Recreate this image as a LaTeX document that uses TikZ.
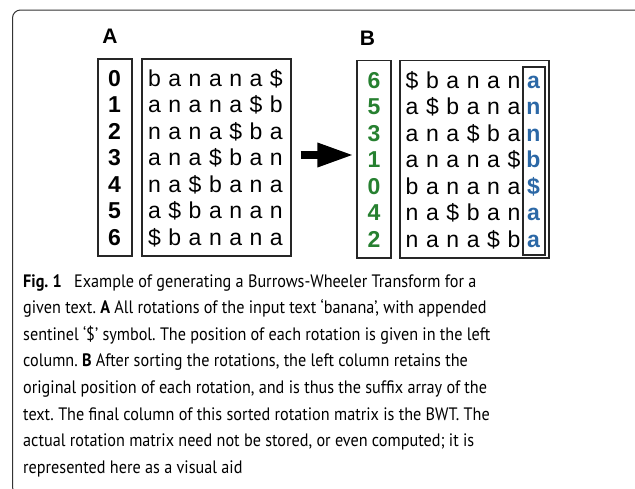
\documentclass[tikz,border=0pt]{standalone}
\usepackage{fontspec}
\usetikzlibrary{arrows.meta}
\newfontfamily\diagfont{Liberation Sans}
\newfontfamily\capfont[FakeStretch=0.9]{PT Sans}
\definecolor{idgreen}{RGB}{38,128,48}
\definecolor{bwtblue}{RGB}{44,104,166}
\frenchspacing
\tikzset{
  frame/.style={draw=black!80, line width=1pt, rounded corners=8pt},
  colbox/.style={draw=black!85, line width=1.1pt, inner sep=0pt},
  ch/.style={font=\diagfont\fontsize{23}{23}\selectfont, anchor=base, inner sep=0pt},
  idx/.style={ch, font=\diagfont\bfseries\fontsize{23}{23}\selectfont},
  panel/.style={font=\diagfont\bfseries\fontsize{21}{21}\selectfont, anchor=base, inner sep=0pt},
  capline/.style={font=\capfont\fontsize{18}{18}\selectfont, anchor=base west, inner sep=0pt},
}
\begin{document}
\begin{tikzpicture}[x=1pt,y=-1pt]
\useasboundingbox (0,0) rectangle (635,488);
\clip (0,0) rectangle (635,488);
% outer frame
\draw[frame] (12.5,10) rectangle (642,495);

% panel labels
\node[panel] (labA) at (110,43) {A};
\node[panel] (labB) at (367.5,45) {B};

% panel A: positions and all rotations
\node[colbox, minimum width=34pt, minimum height=197pt] (numA) at (115,157.5) {};
\node[colbox, minimum width=149pt, minimum height=197pt] (rotA) at (216.5,157.5) {};
\foreach \d/\s [count=\r from 0] in {
  0/{b,a,n,a,n,a,\$}, 1/{a,n,a,n,a,\$,b}, 2/{n,a,n,a,\$,b,a},
  3/{a,n,a,\$,b,a,n}, 4/{n,a,\$,b,a,n,a}, 5/{a,\$,b,a,n,a,n},
  6/{\$,b,a,n,a,n,a}} {
  \node[idx] (iA\r) at (114.5,86+26.5*\r) {\d};
  \foreach \c [count=\i from 0] in \s
    \node[ch] (cA\r-\i) at (154.5+20.3*\i,86+26.5*\r) {\c};
}

% panel B: sorted rotations, suffix array and BWT column
\node[colbox, minimum width=34pt, minimum height=197.5pt] (numB) at (374,159.25) {};
\node[colbox, minimum width=149pt, minimum height=197.5pt] (rotB) at (474.5,159.25) {};
\node[colbox, minimum width=22pt, minimum height=188pt] (bwt) at (534,161) {};
\foreach \d/\s/\l [count=\r from 0] in {
  6/{\$,b,a,n,a,n}/a, 5/{a,\$,b,a,n,a}/n, 3/{a,n,a,\$,b,a}/n,
  1/{a,n,a,n,a,\$}/b, 0/{b,a,n,a,n,a}/\$, 4/{n,a,\$,b,a,n}/a,
  2/{n,a,n,a,\$,b}/a} {
  \node[idx, text=idgreen] (iB\r) at (374,88+26.5*\r) {\d};
  \foreach \c [count=\i from 0] in \s
    \node[ch] (cB\r-\i) at (412+20.4*\i,88+26.5*\r) {\c};
  \node[idx, text=bwtblue] (lB\r) at (533.5,88+26.5*\r) {\l};
}

% transformation arrow
\coordinate (arrS) at ([xshift=9pt]rotA.east |- 0,155);
\coordinate (arrE) at ([xshift=-2pt]numB.west |- 0,155);
\draw[line width=8.6pt, -{Triangle[length=37pt,width=22pt]}] (arrS) -- (arrE);

% caption
\node[capline] (cap1) at (23,287) {\textbf{Fig. 1}\hspace{0.45em} Example of generating a Burrows-Wheeler Transform for a};
\node[capline] (cap2) at (23,313.6) {given text. \textbf{A} All rotations of the input text ‘banana’, with appended};
\node[capline] (cap3) at (23,340.2) {sentinel ‘\$’ symbol. The position of each rotation is given in the left};
\node[capline] (cap4) at (23,366.8) {column. \textbf{B} After sorting the rotations, the left column retains the};
\node[capline] (cap5) at (23,393.4) {original position of each rotation, and is thus the suffix array of the};
\node[capline] (cap6) at (23,420) {text. The final column of this sorted rotation matrix is the BWT. The};
\node[capline] (cap7) at (23,446.6) {actual rotation matrix need not be stored, or even computed; it is};
\node[capline] (cap8) at (23,473.2) {represented here as a visual aid};
\end{tikzpicture}
\end{document}
